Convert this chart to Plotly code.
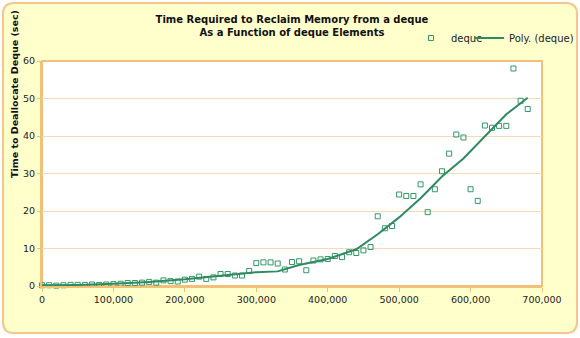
import plotly.graph_objects as go

# deque size (number of elements) and measured deallocation time in seconds
elements = [
    0, 10000, 20000, 30000, 40000, 50000, 60000, 70000, 80000, 90000,
    100000, 110000, 120000, 130000, 140000, 150000, 160000, 170000, 180000, 190000,
    200000, 210000, 220000, 230000, 240000, 250000, 260000, 270000, 280000, 290000,
    300000, 310000, 320000, 330000, 340000, 350000, 360000, 370000, 380000, 390000,
    400000, 410000, 420000, 430000, 440000, 450000, 460000, 470000, 480000, 490000,
    500000, 510000, 520000, 530000, 540000, 550000, 560000, 570000, 580000, 590000,
    600000, 610000, 620000, 630000, 640000, 650000, 660000, 670000, 680000,
]
seconds = [
    0.2, 0.2, 0.1, 0.2, 0.3, 0.3, 0.3, 0.4, 0.3, 0.4,
    0.5, 0.6, 0.8, 0.8, 0.9, 1.1, 0.9, 1.5, 1.3, 1.2,
    1.7, 1.9, 2.5, 1.9, 2.3, 3.2, 3.2, 2.8, 2.8, 4.0,
    6.1, 6.3, 6.3, 6.0, 4.4, 6.4, 6.6, 4.2, 6.8, 7.1,
    7.2, 8.0, 7.7, 9.0, 8.8, 9.5, 10.4, 18.6, 15.4, 16.0,
    24.4, 24.0, 24.0, 27.1, 19.7, 25.8, 30.6, 35.3, 40.4, 39.6,
    25.8, 22.7, 42.8, 42.2, 42.7, 42.7, 58.0, 49.4, 47.2,
]

# polynomial trend line through the measurements
trend_elements = [
    0, 50000, 100000, 150000, 200000, 250000, 300000, 330000, 360000, 400000,
    440000, 470000, 500000, 530000, 560000, 590000, 620000, 650000, 680000,
]
trend_seconds = [
    0.2, 0.3, 0.6, 1.1, 1.8, 2.8, 3.7, 3.9, 5.6, 7.2,
    9.8, 13.8, 18.3, 23.4, 29.2, 34.0, 39.8, 45.8, 50.2,
]

x_ticks = [0, 100000, 200000, 300000, 400000, 500000, 600000, 700000]
y_ticks = [0, 10, 20, 30, 40, 50, 60]

W, H = 580, 338
ML, MR, MT, MB = 42, 38, 61, 52
PW, PH = W - ML - MR, H - MT - MB

FONT = "DejaVu Sans"
GREEN = "#339966"
LINE_GREEN = "#2e8a60"
ORANGE = "#f2c077"
GRID = "#f6dab2"
BG = "#ffffcc"


def px_x(p):
    return (p - ML) / PW


def px_y(p):
    return (H - MB - p) / PH


def rounded_rect(x0, y0, x1, y1, r):
    # pixel box -> paper-space SVG path with rounded corners
    a, b = px_x(x0), px_x(x1)
    top, bot = px_y(y0), px_y(y1)
    rx, ry = r / PW, r / PH
    return (
        f"M {a + rx},{top} L {b - rx},{top} Q {b},{top} {b},{top - ry} "
        f"L {b},{bot + ry} Q {b},{bot} {b - rx},{bot} "
        f"L {a + rx},{bot} Q {a},{bot} {a},{bot + ry} "
        f"L {a},{top - ry} Q {a},{top} {a + rx},{top} Z"
    )


def legend_box(right_px):
    return dict(
        visible=True,
        orientation="h", x=px_x(right_px), xanchor="right", y=px_y(38), yanchor="middle",
        bgcolor="rgba(0,0,0,0)", font=dict(family=FONT, size=10, color="#222"),
        itemwidth=30,
    )


fig = go.Figure()

fig.add_trace(go.Scatter(
    x=elements, y=seconds, mode="markers", name="deque", legend="legend", showlegend=True,
    marker=dict(symbol="square-open", size=5, color=GREEN, line=dict(width=1, color=GREEN)),
    cliponaxis=False,
))
fig.add_trace(go.Scatter(
    x=trend_elements, y=trend_seconds, mode="lines", name="Poly. (deque)",
    legend="legend2", showlegend=True,
    line=dict(color=LINE_GREEN, width=2),
))

fig.update_layout(
    width=W, height=H,
    margin=dict(l=ML, r=MR, t=MT, b=MB, autoexpand=False),
    paper_bgcolor="white",
    plot_bgcolor="white",
    showlegend=True,
    font=dict(family=FONT, size=9.5, color="#222"),
    title=dict(
        text="<b>Time Required to Reclaim Memory from a deque<br>As a Function of deque Elements</b>",
        x=0.5, xref="paper", xanchor="center",
        y=1 - 22.5 / H, yref="container", yanchor="middle",
        font=dict(family=FONT, size=10, color="#111"),
    ),
    legend=legend_box(488),
    legend2=legend_box(579),
    xaxis=dict(
        range=[0, 700000], tickvals=x_ticks, tickformat=",d",
        showgrid=False, zeroline=False,
        showline=True, linecolor=ORANGE, linewidth=2,
        ticks="outside", ticklen=4, tickcolor=ORANGE,
    ),
    yaxis=dict(
        range=[0, 60], tickvals=y_ticks,
        showgrid=True, gridcolor=GRID, gridwidth=1, zeroline=False,
        showline=True, linecolor=ORANGE, linewidth=2,
        ticks="outside", ticklen=3, tickcolor=ORANGE,
    ),
    shapes=[
        dict(type="path", xref="paper", yref="paper", layer="below",
             path=rounded_rect(3, 3, 577, 333, 11),
             fillcolor=BG, line=dict(color="#f5c68c", width=2)),
        dict(type="rect", xref="paper", yref="paper", layer="below",
             x0=0, x1=1, y0=0, y1=1,
             fillcolor="white", line=dict(color=ORANGE, width=2)),
    ],
    annotations=[
        dict(text="<b>Time to Deallocate Deque (sec)</b>", textangle=-90,
             xref="paper", yref="paper", x=px_x(15), y=px_y(94),
             xanchor="center", yanchor="middle", showarrow=False,
             font=dict(family=FONT, size=9.5, color="#111")),
    ],
)

fig.write_html("out.html")
